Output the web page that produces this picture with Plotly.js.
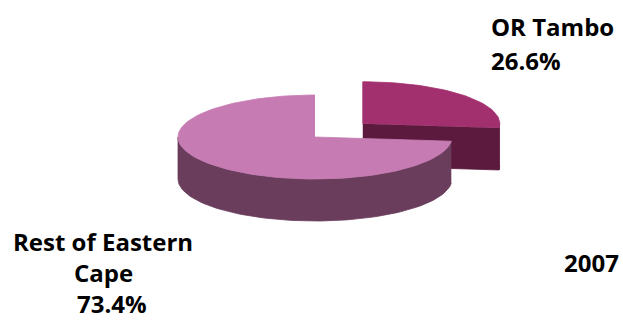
<!DOCTYPE html>
<html>
<head>
<meta charset="utf-8">
<script src="https://cdn.plot.ly/plotly-3.0.1.min.js"></script>
<style>
  html, body { margin: 0; padding: 0; background: #ffffff; }
  #chart { width: 623px; height: 320px; }
</style>
</head>
<body>
<div id="chart"></div>
<script>
// Share of the Eastern Cape, 2007
const regions = ['OR Tambo', 'Rest of Eastern<br>Cape'];
const shares = [26.6, 73.4];
const year = '2007';

// Colours: [top face, side / cut face]
const topColors = ['#a2306e', '#c67cb2'];
const sideColors = ['#5c1a3e', '#6a3d5c'];

// Pie geometry in the plot's own units (axes span 0..623 x 0..320)
const cx = 315, cy = 137, rx = 137, ry = 42, depth = 42;
const explode = [0.47, 0];

const total = shares.reduce((a, b) => a + b, 0);
const rad = d => d * Math.PI / 180;

// point on the tilted rim; angle measured clockwise from 12 o'clock
function rim(ox, oy, ang, dz) {
  return [ox + rx * Math.sin(rad(ang)), oy - ry * Math.cos(rad(ang)) + dz];
}
function arc(ox, oy, a0, a1, dz) {
  const pts = [];
  const n = Math.max(2, Math.ceil(Math.abs(a1 - a0) / 2));
  for (let i = 0; i <= n; i++) pts.push(rim(ox, oy, a0 + (a1 - a0) * i / n, dz));
  return pts;
}
function poly(pts, fill, line, name) {
  return {
    type: 'scatter', mode: 'lines', name: name,
    x: pts.map(p => p[0]), y: pts.map(p => p[1]),
    fill: 'toself', fillcolor: fill,
    line: { color: line, width: 0.8 },
    hoverinfo: 'skip', showlegend: false
  };
}

const back = [], front = [];
let start = 0;
shares.forEach((v, i) => {
  const a0 = start, a1 = start + v / total * 360;
  start = a1;
  const mid = (a0 + a1) / 2;
  const ox = cx + explode[i] * rx * Math.sin(rad(mid));
  const oy = cy - explode[i] * ry * Math.cos(rad(mid));
  const layer = explode[i] > 0 ? back : front;

  // outer side: only the front half (90..270 deg) faces the viewer
  const s0 = Math.max(a0, 90), s1 = Math.min(a1, 270);
  if (s1 > s0) {
    const side = arc(ox, oy, s0, s1, 0).concat(arc(ox, oy, s1, s0, depth));
    layer.push(poly(side, sideColors[i], sideColors[i], regions[i]));
  }
  // cut face at the closing edge when it points toward the viewer
  if (a1 < 180 && a1 > 0 && a1 - a0 < 360) {
    const e = rim(ox, oy, a1, 0), eb = rim(ox, oy, a1, depth);
    layer.push(poly([[ox, oy], e, eb, [ox, oy + depth]], sideColors[i], sideColors[i], regions[i]));
  }
  // top face
  const top = [[ox, oy]].concat(arc(ox, oy, a0, a1, 0));
  layer.push(poly(top, topColors[i], topColors[i], regions[i]));
});

// Slice labels, one annotation per line so the line gap can be set
const labelFont = { family: '"Open Sans", Lato, sans-serif', size: 24, color: '#000000', weight: 700 };
const labelSpots = [
  { x: 490, y: 26, gap: 34, xanchor: 'left', valueShift: 0 },
  { x: 103, y: 241, gap: 31, xanchor: 'center', valueShift: 9 }
];
const annotations = [];
regions.forEach((name, i) => {
  const spot = labelSpots[i];
  const lines = name.split('<br>').concat([shares[i].toFixed(1) + '%']);
  lines.forEach((txt, k) => {
    const isValue = k === lines.length - 1;
    annotations.push({
      x: spot.x + (isValue ? spot.valueShift : 0), y: spot.y + k * spot.gap,
      text: '<b>' + txt + '</b>', xanchor: spot.xanchor, yanchor: 'middle'
    });
  });
});
annotations.push({ x: 591, y: 262, text: '<b>' + year + '</b>', xanchor: 'center', yanchor: 'middle' });
annotations.forEach(a => Object.assign(a, { xref: 'x', yref: 'y', showarrow: false, borderpad: 0, font: labelFont }));

const axis = { showgrid: false, zeroline: false, showticklabels: false, ticks: '', showline: false, fixedrange: true };
const layout = {
  width: 623, height: 320,
  margin: { l: 0, r: 0, t: 0, b: 0 },
  paper_bgcolor: '#ffffff', plot_bgcolor: '#ffffff',
  xaxis: Object.assign({ range: [0, 623] }, axis),
  yaxis: Object.assign({ range: [320, 0] }, axis),
  annotations: annotations,
  hovermode: false,
  showlegend: false
};

Plotly.newPlot('chart', back.concat(front), layout, { displayModeBar: false, staticPlot: true });
</script>
</body>
</html>
